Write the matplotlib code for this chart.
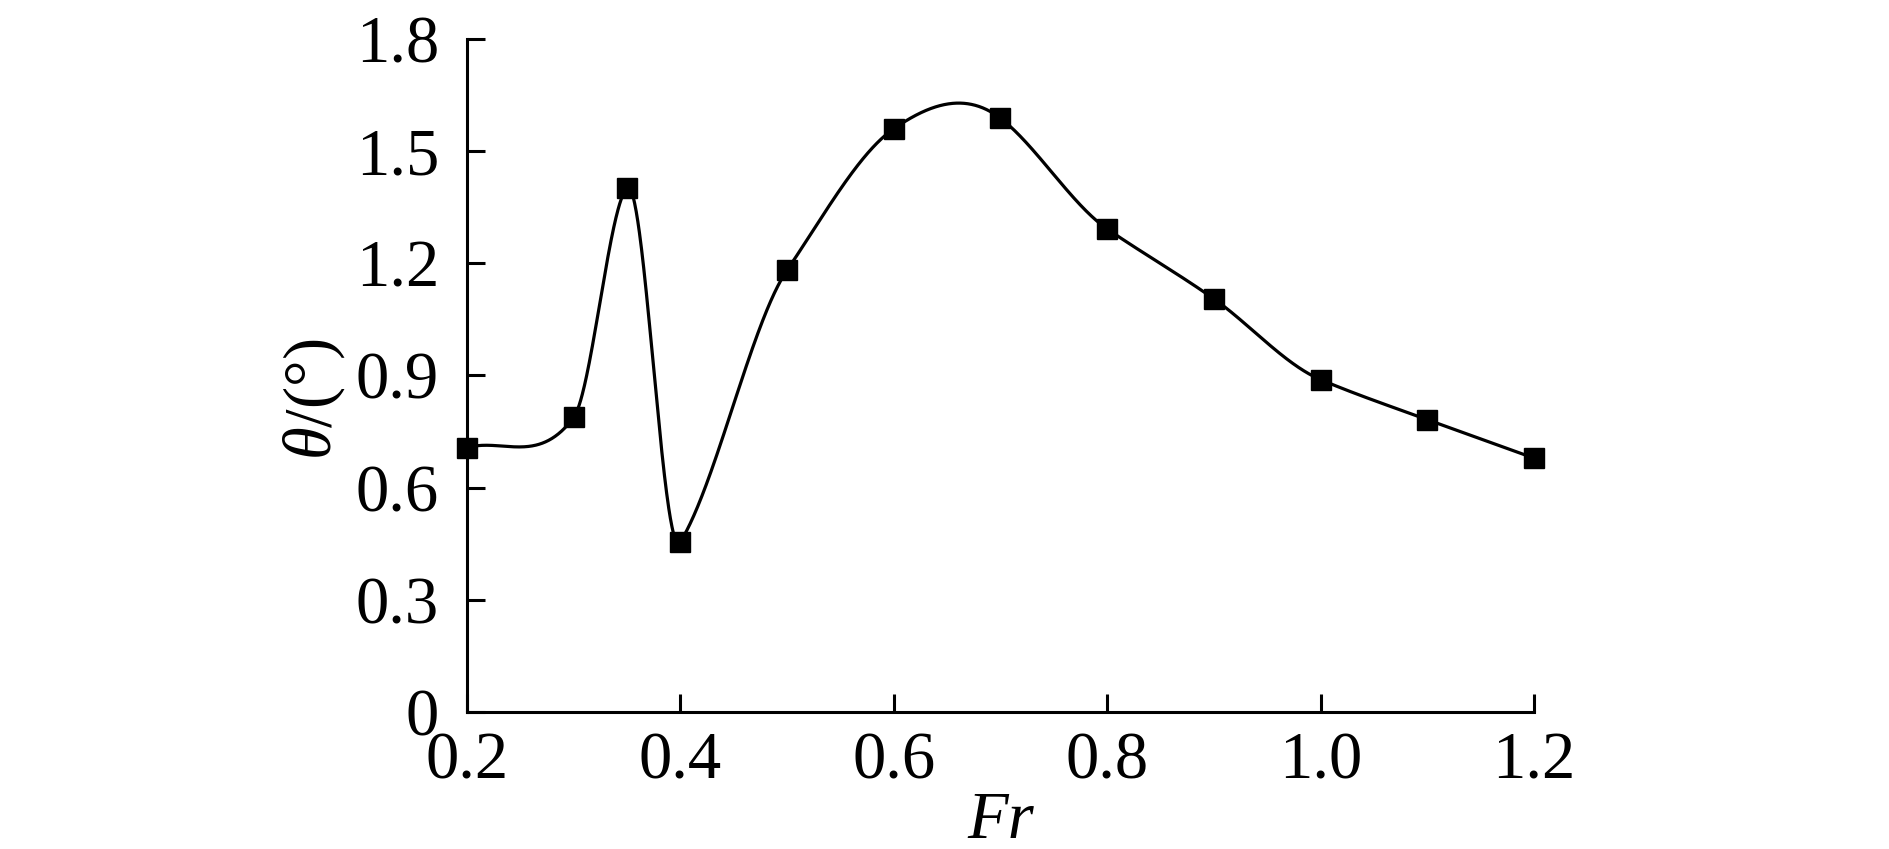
import numpy as np
import matplotlib
matplotlib.use("Agg")
import matplotlib.pyplot as plt

# Data
fr = [0.2, 0.3, 0.35, 0.4, 0.5, 0.6, 0.7, 0.8, 0.9, 1.0, 1.1, 1.2]
theta = [0.707, 0.788, 1.402, 0.455, 1.182, 1.560, 1.588, 1.292, 1.105, 0.889, 0.782, 0.679]
xticks = [0.2, 0.4, 0.6, 0.8, 1.0, 1.2]
xticklabels = ["0.2", "0.4", "0.6", "0.8", "1.0", "1.2"]
yticks = [0, 0.3, 0.6, 0.9, 1.2, 1.5, 1.8]
yticklabels = ["0", "0.3", "0.6", "0.9", "1.2", "1.5", "1.8"]


def akima(x, y, xs):
    """Akima interpolation (interior slopes), end slopes = end secants."""
    x = np.asarray(x, float)
    y = np.asarray(y, float)
    m = np.diff(y) / np.diff(x)
    mL1 = 2 * m[0] - m[1]
    mL2 = 2 * mL1 - m[0]
    mR1 = 2 * m[-1] - m[-2]
    mR2 = 2 * mR1 - m[-1]
    mm = np.concatenate([[mL2, mL1], m, [mR1, mR2]])
    n = len(x)
    t = np.zeros(n)
    for i in range(n):
        m1, m2, m3, m4 = mm[i], mm[i + 1], mm[i + 2], mm[i + 3]
        w1 = abs(m4 - m3)
        w2 = abs(m2 - m1)
        if w1 + w2 < 1e-12:
            t[i] = 0.5 * (m2 + m3)
        else:
            t[i] = (w1 * m2 + w2 * m3) / (w1 + w2)
    t[0] = m[0]
    t[-1] = m[-1]
    idx = np.clip(np.searchsorted(x, xs) - 1, 0, n - 2)
    h = x[idx + 1] - x[idx]
    s = (xs - x[idx]) / h
    h00 = 2 * s**3 - 3 * s**2 + 1
    h10 = s**3 - 2 * s**2 + s
    h01 = -2 * s**3 + 3 * s**2
    h11 = s**3 - s**2
    return h00 * y[idx] + h10 * h * t[idx] + h01 * y[idx + 1] + h11 * h * t[idx + 1]


plt.rcParams["font.family"] = ["Liberation Serif", "DejaVu Serif"]
plt.rcParams["mathtext.fontset"] = "custom"
plt.rcParams["mathtext.rm"] = "Liberation Serif"
plt.rcParams["mathtext.it"] = "Liberation Serif:italic"

fig = plt.figure(figsize=(18.9, 8.49), dpi=100)
ax = fig.add_axes([467 / 1890, 1 - 712 / 849, (1534 - 467) / 1890, (712 - 39) / 849])

xs = np.linspace(fr[0], fr[-1], 2000)
ax.plot(xs, akima(fr, theta, xs), color="black", lw=2.3, solid_capstyle="round")
ax.plot(fr, theta, linestyle="none", marker="s", markersize=14.5, color="black", clip_on=False)

ax.set_xlim(0.2, 1.2)
ax.set_ylim(0, 1.8)
ax.set_xticks(xticks)
ax.set_xticklabels(xticklabels)
ax.set_yticks(yticks)
ax.set_yticklabels(yticklabels)

for side in ["top", "right"]:
    ax.spines[side].set_visible(False)
for side in ["left", "bottom"]:
    ax.spines[side].set_linewidth(2.2)

ax.tick_params(axis="both", direction="in", length=13, width=2.2, labelsize=48)
ax.tick_params(axis="x", pad=14)
ax.tick_params(axis="y", pad=20)

ax.set_xlabel("Fr", fontsize=48, fontstyle="italic", labelpad=-1)
ax.set_ylabel(r"$\theta$/(°)", fontsize=48)
ax.yaxis.set_label_coords(-0.112, 0.465)

fig.savefig("out.png", dpi=100, facecolor="white")
